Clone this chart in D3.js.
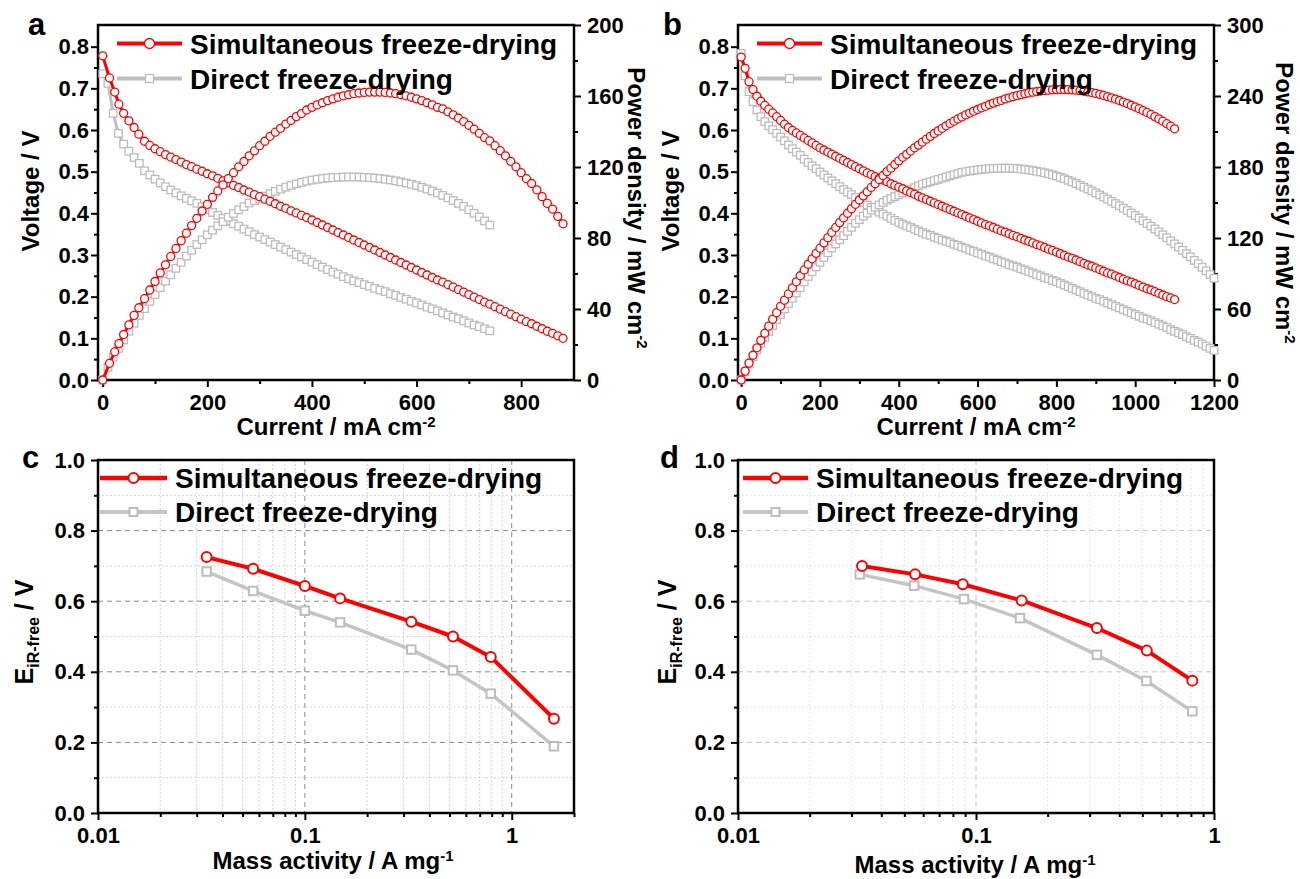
<!DOCTYPE html>
<html>
<head>
<meta charset="utf-8">
<script src="https://cdn.jsdelivr.net/npm/d3@7"></script>
<style>
  body { margin: 0; background: #fff; }
  svg { display: block; }
</style>
</head>
<body>
<svg id="fig" width="1300" height="879"></svg>
<script>
// ---------- panel a : polarization / power density ----------
const aSimCurrent = [0, 13, 23, 31, 40, 50, 60, 69, 80, 90, 100, 110, 120, 130, 140, 150, 160, 170, 180, 190, 200,
  210, 220, 230, 240, 250, 260, 270, 280, 290, 300, 310, 320, 330, 340, 350, 360, 370, 380, 390, 400,
  410, 420, 430, 440, 450, 460, 470, 480, 490, 500, 510, 520, 530, 540, 550, 560, 570, 580, 590, 600,
  610, 620, 630, 640, 650, 660, 670, 680, 690, 700, 710, 720, 730, 740, 750, 760, 770, 780, 790, 800,
  810, 820, 830, 840, 850, 860, 870, 880];
const aSimVoltage = [0.778, 0.725, 0.691, 0.662, 0.640, 0.622, 0.606, 0.590,
  0.573, 0.563, 0.555, 0.548, 0.541, 0.535, 0.529, 0.523, 0.517, 0.512, 0.506, 0.501, 0.495,
  0.490, 0.484, 0.478, 0.473, 0.467, 0.462, 0.456, 0.451, 0.445, 0.440, 0.434, 0.429, 0.423, 0.417, 0.412, 0.406, 0.401, 0.395, 0.390, 0.384,
  0.378, 0.372, 0.366, 0.360, 0.354, 0.348, 0.342, 0.336, 0.330, 0.324, 0.318, 0.312, 0.306, 0.300, 0.294, 0.288, 0.282, 0.276, 0.270, 0.264,
  0.258, 0.252, 0.246, 0.240, 0.235, 0.229, 0.223, 0.217, 0.211, 0.205, 0.199, 0.193, 0.187, 0.182, 0.176, 0.170, 0.164, 0.158, 0.152, 0.146,
  0.140, 0.135, 0.129, 0.123, 0.117, 0.112, 0.106, 0.100];
const aSimPower = [0, 9.4, 15.9, 20.5, 25.6, 31.1, 36.4, 40.7,
  45.8, 50.7, 55.5, 60.3, 64.9, 69.6, 74.1, 78.5, 82.7, 87.0, 91.1, 95.2, 99.0,
  102.9, 106.5, 109.9, 113.5, 116.8, 120.1, 123.1, 126.3, 129.1, 132.0, 134.5, 137.3, 139.6, 141.8, 144.2, 146.2, 148.4, 150.1, 152.1, 153.6,
  155.0, 156.2, 157.4, 158.4, 159.3, 160.1, 160.7, 161.3, 161.7, 162.0, 162.2, 162.2, 162.2, 162.0, 161.7, 161.3, 160.7, 160.1, 159.3, 158.4,
  157.4, 156.2, 155.0, 153.6, 152.8, 151.1, 149.4, 147.6, 145.6, 143.5, 141.3, 139.0, 136.5, 134.7, 132.0, 129.2, 126.3, 123.2, 120.1, 116.8,
  113.4, 110.7, 107.1, 103.3, 99.5, 96.3, 92.2, 88.0];

const aDirCurrent = [0, 10, 20, 30, 40, 50, 60, 70, 80, 90, 100, 110, 120, 130, 140, 150, 160, 170, 180, 190,
  200, 210, 220, 230, 240, 250, 260, 270, 280, 290, 300, 310, 320, 330, 340, 350, 360, 370, 380, 390,
  400, 410, 420, 430, 440, 450, 460, 470, 480, 490, 500, 510, 520, 530, 540, 550, 560, 570, 580, 590,
  600, 610, 620, 630, 640, 650, 660, 670, 680, 690, 700, 710, 720, 730, 740];
const aDirVoltage = [0.735, 0.712, 0.640, 0.592, 0.566, 0.549, 0.534, 0.520, 0.502, 0.492,
  0.482, 0.473, 0.464, 0.456, 0.449, 0.442, 0.436, 0.430, 0.424, 0.416,
  0.409, 0.402, 0.395, 0.388, 0.382, 0.375, 0.369, 0.362, 0.356, 0.349,
  0.343, 0.337, 0.331, 0.325, 0.319, 0.313, 0.307, 0.301, 0.295, 0.289,
  0.283, 0.277, 0.271, 0.265, 0.259, 0.254, 0.248, 0.243, 0.238, 0.234,
  0.229, 0.225, 0.220, 0.216, 0.212, 0.207, 0.203, 0.198, 0.194, 0.189,
  0.185, 0.180, 0.175, 0.171, 0.166, 0.161, 0.156, 0.151, 0.147, 0.142,
  0.137, 0.132, 0.128, 0.123, 0.118];
const aDirPower = [0, 7.1, 12.8, 17.8, 22.6, 27.5, 32.0, 36.4, 40.2, 44.3,
  48.2, 52.0, 55.7, 59.3, 62.9, 66.3, 69.8, 73.1, 76.3, 79.0,
  81.8, 84.4, 86.9, 89.2, 91.7, 93.8, 95.9, 97.7, 99.7, 101.0,
  102.0, 103.6, 105.0, 106.3, 107.5, 108.6, 109.6, 110.5, 111.3, 112.0,
  112.6, 113.1, 113.5, 113.8, 114.0, 114.2, 114.3, 114.4, 114.4, 114.3,
  114.2, 114.0, 113.8, 113.5, 113.1, 112.7, 112.2, 111.6, 111.0, 110.3,
  109.5, 108.6, 107.6, 106.5, 105.3, 104.0, 102.6, 101.1, 99.5, 97.8,
  95.9, 93.9, 91.8, 89.6, 87.3];

// ---------- panel b ----------
const bSimCurrent = [0, 10, 20, 30, 40, 50, 60, 70, 80, 90, 100, 110, 120, 130, 140, 150, 160, 170, 180, 190,
  200, 210, 220, 230, 240, 250, 260, 270, 280, 290, 300, 310, 320, 330, 340, 350, 360, 370, 380, 390,
  400, 410, 420, 430, 440, 450, 460, 470, 480, 490, 500, 510, 520, 530, 540, 550, 560, 570, 580, 590,
  600, 610, 620, 630, 640, 650, 660, 670, 680, 690, 700, 710, 720, 730, 740, 750, 760, 770, 780, 790,
  800, 810, 820, 830, 840, 850, 860, 870, 880, 890, 900, 910, 920, 930, 940, 950, 960, 970, 980, 990,
  1000, 1010, 1020, 1030, 1040, 1050, 1060, 1070, 1080, 1090, 1100];
const bSimVoltage = [0.775, 0.748, 0.716, 0.697, 0.681, 0.669, 0.659, 0.650, 0.641, 0.632,
  0.623, 0.614, 0.606, 0.599, 0.593, 0.587, 0.581, 0.575, 0.569, 0.563,
  0.557, 0.552, 0.547, 0.542, 0.537, 0.532, 0.527, 0.522, 0.517, 0.512,
  0.507, 0.502, 0.497, 0.493, 0.488, 0.484, 0.480, 0.476, 0.471, 0.467,
  0.463, 0.459, 0.454, 0.450, 0.446, 0.441, 0.437, 0.433, 0.429, 0.425,
  0.421, 0.417, 0.413, 0.409, 0.405, 0.401, 0.397, 0.393, 0.389, 0.385,
  0.381, 0.377, 0.373, 0.370, 0.366, 0.362, 0.358, 0.355, 0.351, 0.347,
  0.344, 0.340, 0.336, 0.333, 0.329, 0.325, 0.322, 0.318, 0.314, 0.311,
  0.307, 0.303, 0.299, 0.295, 0.292, 0.288, 0.284, 0.280, 0.276, 0.273,
  0.269, 0.265, 0.261, 0.257, 0.254, 0.250, 0.246, 0.242, 0.238, 0.235,
  0.231, 0.227, 0.223, 0.219, 0.216, 0.212, 0.208, 0.204, 0.200, 0.197,
  0.193];
const bSimPower = [0, 7.5, 14.3, 20.9, 27.2, 33.5, 39.5, 45.5, 51.3, 56.9,
  62.3, 67.5, 72.7, 77.9, 83.0, 88.1, 93.0, 97.8, 102.4, 107.0,
  111.4, 115.9, 120.3, 124.7, 128.9, 133.0, 137.0, 140.9, 144.8, 148.5,
  152.1, 155.6, 159.0, 162.7, 165.9, 169.4, 172.8, 176.1, 179.0, 182.1,
  185.2, 188.2, 190.7, 193.5, 196.2, 198.5, 201.0, 203.5, 205.9, 208.3,
  210.5, 212.7, 214.8, 216.8, 218.7, 220.6, 222.3, 224.0, 225.6, 227.2,
  228.6, 230.0, 231.3, 232.8, 234.0, 235.2, 236.3, 237.5, 238.5, 239.4,
  240.3, 241.1, 241.9, 242.6, 243.2, 243.7, 244.2, 244.6, 244.9, 245.2,
  245.4, 245.5, 245.5, 245.4, 245.2, 244.9, 244.5, 244.0, 243.5, 242.9,
  242.2, 241.4, 240.5, 239.5, 238.5, 237.4, 236.2, 234.9, 233.6, 232.2,
  230.8, 229.3, 227.7, 226.1, 224.4, 222.6, 220.7, 218.7, 216.6, 214.5,
  212.3];

const bDirCurrent = [0, 10, 20, 30, 40, 50, 60, 70, 80, 90, 100, 110, 120, 130, 140, 150, 160, 170, 180, 190,
  200, 210, 220, 230, 240, 250, 260, 270, 280, 290, 300, 310, 320, 330, 340, 350, 360, 370, 380, 390,
  400, 410, 420, 430, 440, 450, 460, 470, 480, 490, 500, 510, 520, 530, 540, 550, 560, 570, 580, 590,
  600, 610, 620, 630, 640, 650, 660, 670, 680, 690, 700, 710, 720, 730, 740, 750, 760, 770, 780, 790,
  800, 810, 820, 830, 840, 850, 860, 870, 880, 890, 900, 910, 920, 930, 940, 950, 960, 970, 980, 990,
  1000, 1010, 1020, 1030, 1040, 1050, 1060, 1070, 1080, 1090, 1100, 1110, 1120, 1130, 1140, 1150, 1160, 1170, 1180, 1190,
  1200];
const bDirVoltage = [0.784, 0.730, 0.692, 0.668, 0.648, 0.632, 0.620, 0.610, 0.601, 0.592,
  0.583, 0.574, 0.564, 0.555, 0.547, 0.539, 0.530, 0.522, 0.514, 0.507,
  0.499, 0.492, 0.485, 0.478, 0.471, 0.464, 0.457, 0.451, 0.445, 0.438,
  0.432, 0.426, 0.420, 0.414, 0.409, 0.403, 0.398, 0.393, 0.388, 0.383,
  0.378, 0.374, 0.370, 0.366, 0.362, 0.358, 0.354, 0.350, 0.347, 0.343,
  0.340, 0.336, 0.333, 0.330, 0.326, 0.323, 0.319, 0.316, 0.312, 0.309,
  0.305, 0.302, 0.298, 0.295, 0.291, 0.288, 0.284, 0.281, 0.277, 0.274,
  0.271, 0.267, 0.264, 0.260, 0.257, 0.253, 0.250, 0.246, 0.243, 0.239,
  0.236, 0.232, 0.228, 0.224, 0.220, 0.216, 0.212, 0.208, 0.204, 0.200,
  0.196, 0.193, 0.189, 0.185, 0.181, 0.177, 0.173, 0.169, 0.165, 0.161,
  0.157, 0.153, 0.149, 0.146, 0.142, 0.138, 0.134, 0.130, 0.126, 0.121,
  0.117, 0.113, 0.109, 0.104, 0.100, 0.095, 0.091, 0.086, 0.081, 0.076,
  0.071];
const bDirPower = [0, 7.0, 13.5, 19.5, 25.5, 31.0, 36.0, 41.0, 46.0, 51.0,
  55.5, 60.0, 64.5, 69.0, 73.5, 78.0, 83.0, 87.5, 91.5, 95.5,
  99.5, 103.5, 107.5, 111.5, 115.0, 118.5, 122.0, 125.5, 129.0, 132.5,
  135.5, 138.5, 141.0, 143.5, 146.0, 148.0, 150.0, 152.0, 153.5, 155.0,
  156.5, 158.0, 159.5, 161.0, 162.5, 164.0, 165.5, 166.5, 167.5, 168.5,
  169.5, 170.5, 171.5, 172.5, 173.5, 174.5, 175.5, 176.0, 176.6, 177.1,
  177.5, 177.9, 178.3, 178.6, 178.8, 178.9, 179.0, 179.0, 179.0, 178.9,
  178.7, 178.4, 178.0, 177.5, 177.0, 176.4, 175.8, 175.1, 174.3, 173.4,
  172.4, 171.3, 170.1, 168.8, 167.4, 166.0, 164.5, 163.0, 161.4, 159.8,
  158.1, 156.4, 154.6, 152.8, 151.0, 149.1, 147.2, 145.2, 143.2, 141.1,
  139.0, 136.8, 134.6, 132.3, 130.0, 127.6, 125.2, 122.7, 120.2, 117.6,
  115.0, 112.3, 109.6, 106.8, 104.0, 101.1, 98.2, 95.2, 92.2, 89.1,
  86.0];

// ---------- panels c, d : iR-free potential vs mass activity ----------
const cMass = [0.0335, 0.0562, 0.1, 0.148, 0.327, 0.52, 0.792, 1.6];
const cSimE = [0.725, 0.692, 0.643, 0.608, 0.542, 0.500, 0.442, 0.267];
const cDirE = [0.684, 0.629, 0.573, 0.540, 0.463, 0.404, 0.338, 0.189];

const dSimMass = [0.0332, 0.0555, 0.088, 0.1555, 0.322, 0.522, 0.811];
const dSimE = [0.700, 0.676, 0.648, 0.602, 0.524, 0.460, 0.375];
const dDirMass = [0.0325, 0.055, 0.089, 0.153, 0.322, 0.52, 0.811];
const dDirE = [0.676, 0.644, 0.606, 0.552, 0.448, 0.374, 0.288];

// ---------- ticks ----------
const voltTicks = [0, 0.1, 0.2, 0.3, 0.4, 0.5, 0.6, 0.7, 0.8];
const voltMinor = [0.05, 0.15, 0.25, 0.35, 0.45, 0.55, 0.65, 0.75];
const aCurrentTicks = [0, 200, 400, 600, 800];
const aCurrentMinor = [100, 300, 500, 700];
const aPowerTicks = [0, 40, 80, 120, 160, 200];
const aPowerMinor = [20, 60, 100, 140, 180];
const bCurrentTicks = [0, 200, 400, 600, 800, 1000, 1200];
const bCurrentMinor = [100, 300, 500, 700, 900, 1100];
const bPowerTicks = [0, 60, 120, 180, 240, 300];
const bPowerMinor = [30, 90, 150, 210, 270];
const eTicks = [0, 0.2, 0.4, 0.6, 0.8, 1.0];
const eMinor = [0.1, 0.3, 0.5, 0.7, 0.9];
const massTicks = [0.01, 0.1, 1];
const cMassMinor = [0.02, 0.03, 0.04, 0.05, 0.06, 0.07, 0.08, 0.09, 0.2, 0.3, 0.4, 0.5, 0.6, 0.7, 0.8, 0.9, 2];
const dMassMinor = [0.02, 0.03, 0.04, 0.05, 0.06, 0.07, 0.08, 0.09, 0.2, 0.3, 0.4, 0.5, 0.6, 0.7, 0.8, 0.9];

const FONT = "'Liberation Sans', Arial, Helvetica, sans-serif";
const RED = '#ff0000';
const GRAY = '#c0c0c0';

const svg = d3.select('#fig');
svg.append('rect').attr('width', 1300).attr('height', 879).attr('fill', '#fff');

// minor ticks first, then labelled major ticks, both outward
function addAxis(parent, axis, major, minor, transform, fmt, pad) {
    const gMinor = parent.append('g').attr('class', 'axis minor');
    const gMajor = parent.append('g').attr('class', 'axis major');
    if (transform) {
        gMinor.attr('transform', transform);
        gMajor.attr('transform', transform);
    }
    gMinor.call(axis.tickValues(minor).tickSize(4).tickSizeOuter(0).tickFormat(''));
    gMajor.call(axis.tickValues(major).tickSize(7).tickPadding(pad).tickFormat(fmt));
    [gMinor, gMajor].forEach(g => {
        g.select('.domain').remove();
        g.selectAll('line').attr('stroke', '#000').attr('stroke-width', 2);
    });
    gMajor.attr('font-size', 22).attr('font-family', FONT).attr('font-weight', 'bold');
    gMajor.selectAll('text').attr('fill', '#000');
}

function drawMarkers(layer, coords, st) {
    if (st.shape === 'circle') {
        layer.selectAll('circle.m')
            .data(coords)
            .join('circle')
            .attr('class', 'm')
            .attr('cx', d => d[0])
            .attr('cy', d => d[1])
            .attr('r', st.r)
            .attr('fill', '#fff')
            .attr('stroke', st.color)
            .attr('stroke-width', st.markerStroke);
    } else {
        layer.selectAll('rect.m')
            .data(coords)
            .join('rect')
            .attr('class', 'm')
            .attr('x', d => d[0] - st.size / 2)
            .attr('y', d => d[1] - st.size / 2)
            .attr('width', st.size)
            .attr('height', st.size)
            .attr('fill', '#fff')
            .attr('stroke', st.markerColor || st.color)
            .attr('stroke-width', st.markerStroke);
    }
}

function drawSeries(parent, xs, ys, xScale, yScale, st) {
    const pts = xs.map((x, i) => [xScale(x), yScale(ys[i])]);
    const layer = parent.append('g');
    layer.append('path')
        .datum(pts)
        .attr('d', d3.line())
        .attr('fill', 'none')
        .attr('stroke', st.color)
        .attr('stroke-width', st.lineWidth)
        .attr('stroke-linejoin', 'round');
    drawMarkers(layer, pts, st);
}

function drawLegendRow(x1, x2, y, textX, textY, label, st) {
    const g = svg.append('g');
    g.append('line')
        .attr('x1', x1).attr('x2', x2).attr('y1', y).attr('y2', y)
        .attr('stroke', st.color).attr('stroke-width', st.legendLine);
    const legendStyle = Object.assign({}, st, { r: st.legendR || st.r, size: st.legendSize || st.size });
    drawMarkers(g, [[(x1 + x2) / 2, y]], legendStyle);
    g.append('text')
        .attr('x', textX).attr('y', textY)
        .attr('font-family', FONT).attr('font-weight', 'bold').attr('font-size', 28)
        .text(label);
}

function addText(x, y, rotate, size) {
    return svg.append('text')
        .attr('transform', `translate(${x},${y})` + (rotate ? ` rotate(${rotate})` : ''))
        .attr('text-anchor', 'middle')
        .attr('font-family', FONT)
        .attr('font-weight', 'bold')
        .attr('font-size', size);
}

class PolarizationChart {
    constructor(_config, _series) {
        this.config = _config;
        this.series = _series;
        this.initVis();
    }

    initVis() {
        let vis = this;
        const c = vis.config;

        vis.xScale = d3.scaleLinear().domain(c.xDomain).range([0, c.width]);
        vis.vScale = d3.scaleLinear().domain(c.vDomain).range([c.height, 0]);
        vis.pScale = d3.scaleLinear().domain(c.pDomain).range([c.height, 0]);

        vis.chart = svg.append('g')
            .attr('transform', `translate(${c.left},${c.top})`);

        vis.chart.append('rect')
            .attr('width', c.width)
            .attr('height', c.height)
            .attr('fill', 'none')
            .attr('stroke', '#000')
            .attr('stroke-width', 2.5);

        addAxis(vis.chart, d3.axisBottom(vis.xScale), c.xTicks, c.xMinor,
            `translate(0,${c.height})`, d3.format('d'), 7);
        addAxis(vis.chart, d3.axisLeft(vis.vScale), voltTicks, voltMinor, null, d3.format('.1f'), 2);
        addAxis(vis.chart, d3.axisRight(vis.pScale), c.pTicks, c.pMinor,
            `translate(${c.width},0)`, d3.format('d'), 6);

        vis.renderVis();
    }

    renderVis() {
        let vis = this;
        // direct freeze-drying below, simultaneous on top
        vis.series.forEach(s => {
            drawSeries(vis.chart, s.current, s.voltage, vis.xScale, vis.vScale, s.style);
            drawSeries(vis.chart, s.current, s.power, vis.xScale, vis.pScale, s.style);
        });
    }
}

class ActivityChart {
    constructor(_config, _series) {
        this.config = _config;
        this.series = _series;
        this.initVis();
    }

    initVis() {
        let vis = this;
        const c = vis.config;

        vis.xScale = d3.scaleLog().domain(c.xDomain).range([0, c.width]);
        vis.yScale = d3.scaleLinear().domain([0, 1]).range([c.height, 0]);

        vis.chart = svg.append('g')
            .attr('transform', `translate(${c.left},${c.top})`);

        // grid: dotted minor, dashed major
        const grid = vis.chart.append('g');
        grid.selectAll('line.hmin').data(eMinor).join('line')
            .attr('x1', 0).attr('x2', c.width)
            .attr('y1', d => vis.yScale(d)).attr('y2', d => vis.yScale(d))
            .attr('stroke', c.minorGrid).attr('stroke-dasharray', '2,2');
        grid.selectAll('line.vmin').data(c.xMinor.filter(d => d < c.xDomain[1])).join('line')
            .attr('y1', 0).attr('y2', c.height)
            .attr('x1', d => vis.xScale(d)).attr('x2', d => vis.xScale(d))
            .attr('stroke', c.minorGrid).attr('stroke-dasharray', '2,2');
        grid.selectAll('line.hmaj').data(eTicks.filter(d => d > 0 && d < 1)).join('line')
            .attr('x1', 0).attr('x2', c.width)
            .attr('y1', d => vis.yScale(d)).attr('y2', d => vis.yScale(d))
            .attr('stroke', c.majorGrid).attr('stroke-dasharray', '5,4');
        grid.selectAll('line.vmaj').data(massTicks.filter(d => d > c.xDomain[0] && d < c.xDomain[1])).join('line')
            .attr('y1', 0).attr('y2', c.height)
            .attr('x1', d => vis.xScale(d)).attr('x2', d => vis.xScale(d))
            .attr('stroke', c.majorGrid).attr('stroke-dasharray', '5,4');

        vis.chart.append('rect')
            .attr('width', c.width)
            .attr('height', c.height)
            .attr('fill', 'none')
            .attr('stroke', '#000')
            .attr('stroke-width', 2.5);

        addAxis(vis.chart, d3.axisBottom(vis.xScale), massTicks, c.xMinor,
            `translate(0,${c.height})`, d => String(d), 7);
        addAxis(vis.chart, d3.axisLeft(vis.yScale), eTicks, eMinor, null, d3.format('.1f'), 6);

        vis.renderVis();
    }

    renderVis() {
        let vis = this;
        vis.series.forEach(s => {
            drawSeries(vis.chart, s.mass, s.e, vis.xScale, vis.yScale, s.style);
        });
    }
}

// ---------- styles ----------
const simStyleAB = { color: RED, lineWidth: 3, shape: 'circle', r: 4, markerStroke: 1.3, legendLine: 4, legendR: 5 };
const dirStyleAB = { color: GRAY, markerColor: '#bcbcbc', lineWidth: 3, shape: 'square', size: 7.5, markerStroke: 1.3, legendLine: 4, legendSize: 8 };
const simStyleCD = { color: RED, lineWidth: 4, shape: 'circle', r: 5, markerStroke: 2, legendLine: 4.5, legendR: 5 };
const dirStyleCD = { color: '#c4c4c4', markerColor: '#bdbdbd', lineWidth: 3.5, shape: 'square', size: 8.5, markerStroke: 2, legendLine: 4, legendSize: 8 };

// ---------- panel a ----------
new PolarizationChart({
    left: 98, top: 25, width: 476, height: 355,
    xDomain: [-9, 901], vDomain: [0, 0.852], pDomain: [0, 200],
    xTicks: aCurrentTicks, xMinor: aCurrentMinor,
    pTicks: aPowerTicks, pMinor: aPowerMinor
}, [
    { current: aDirCurrent, voltage: aDirVoltage, power: aDirPower, style: dirStyleAB },
    { current: aSimCurrent, voltage: aSimVoltage, power: aSimPower, style: simStyleAB }
]);

// ---------- panel b ----------
new PolarizationChart({
    left: 738, top: 25, width: 476, height: 355,
    xDomain: [-8, 1200], vDomain: [0, 0.852], pDomain: [0, 300],
    xTicks: bCurrentTicks, xMinor: bCurrentMinor,
    pTicks: bPowerTicks, pMinor: bPowerMinor
}, [
    { current: bDirCurrent, voltage: bDirVoltage, power: bDirPower, style: dirStyleAB },
    { current: bSimCurrent, voltage: bSimVoltage, power: bSimPower, style: simStyleAB }
]);

// ---------- panel c ----------
new ActivityChart({
    left: 98, top: 460, width: 476, height: 353,
    xDomain: [0.01, 2], xMinor: cMassMinor,
    majorGrid: '#8a8a8a', minorGrid: '#d4d4d4'
}, [
    { mass: cMass, e: cDirE, style: dirStyleCD },
    { mass: cMass, e: cSimE, style: simStyleCD }
]);

// ---------- panel d ----------
new ActivityChart({
    left: 738, top: 460, width: 476, height: 353,
    xDomain: [0.01, 1], xMinor: dMassMinor,
    majorGrid: '#c4c4c4', minorGrid: '#e6e6e6'
}, [
    { mass: dDirMass, e: dDirE, style: dirStyleCD },
    { mass: dSimMass, e: dSimE, style: simStyleCD }
]);

// ---------- legends ----------
drawLegendRow(117, 182, 43.5, 190, 53.5, 'Simultaneous freeze-drying', simStyleAB);
drawLegendRow(117, 182, 78.5, 190, 88.5, 'Direct freeze-drying', dirStyleAB);
drawLegendRow(757, 822, 43.5, 830, 53.5, 'Simultaneous freeze-drying', simStyleAB);
drawLegendRow(757, 822, 78.5, 830, 88.5, 'Direct freeze-drying', dirStyleAB);
drawLegendRow(100, 167, 478, 175, 488, 'Simultaneous freeze-drying', simStyleCD);
drawLegendRow(100, 167, 512, 175, 522, 'Direct freeze-drying', dirStyleCD);
drawLegendRow(743, 808, 478, 816, 488, 'Simultaneous freeze-drying', simStyleCD);
drawLegendRow(743, 808, 512, 816, 522, 'Direct freeze-drying', dirStyleCD);

// ---------- axis titles ----------
[336, 976].forEach(x => {
    const t = addText(x, 435, 0, 24);
    t.append('tspan').text('Current / mA cm');
    t.append('tspan').attr('dy', -8).attr('font-size', 15).text('-2');
});
[[39, 191], [679, 191]].forEach(p => {
    addText(p[0], p[1], -90, 24).text('Voltage / V');
});
[[628, 208], [1276, 203]].forEach(p => {
    const t = addText(p[0], p[1], 90, 24);
    t.append('tspan').text('Power density / mW cm');
    t.append('tspan').attr('dy', -9).attr('font-size', 15).text('-2');
});
[[333, 869], [975, 873]].forEach(p => {
    const t = addText(p[0], p[1], 0, 24);
    t.append('tspan').text('Mass activity / A mg');
    t.append('tspan').attr('dy', -8).attr('font-size', 15).text('-1');
});
[[33, 632], [676, 632]].forEach(p => {
    const t = addText(p[0], p[1], -90, 25);
    t.append('tspan').text('E');
    t.append('tspan').attr('dy', 6).attr('font-size', 16).text('iR-free');
    t.append('tspan').attr('dy', -6).text(' / V');
});

// ---------- panel letters ----------
[['a', 28, 35], ['b', 663, 35], ['c', 22, 468], ['d', 660, 468]].forEach(p => {
    svg.append('text')
        .attr('x', p[1]).attr('y', p[2])
        .attr('font-family', FONT).attr('font-weight', 'bold').attr('font-size', 31)
        .text(p[0]);
});
</script>
</body>
</html>
